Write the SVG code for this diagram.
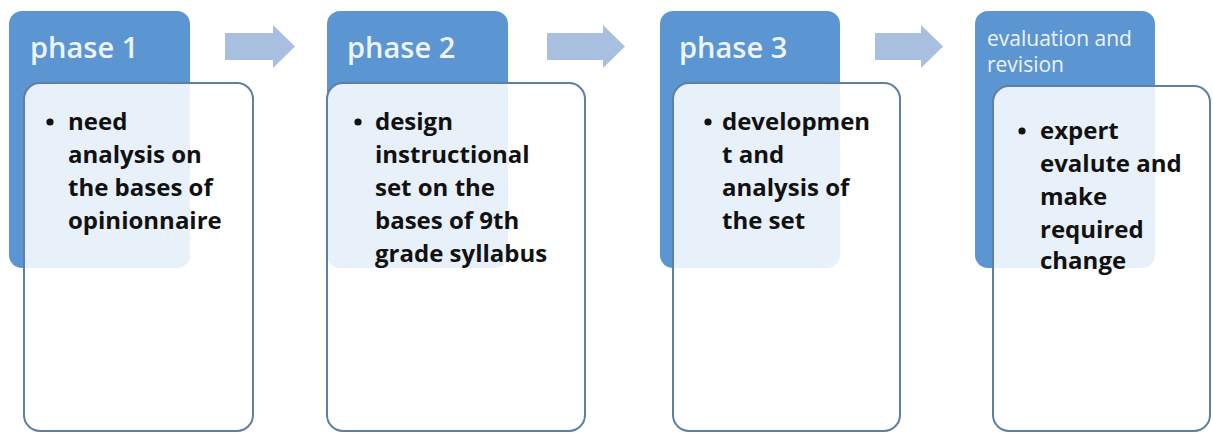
<svg xmlns="http://www.w3.org/2000/svg" width="1213" height="434" viewBox="0 0 1213 434">
<style>
.hdr{fill:#5b96d2}
.card{fill:#ffffff;fill-opacity:0.86;stroke:#5f7fa4;stroke-width:2}
.ttl{font-family:"Open Sans","Liberation Sans",sans-serif;font-weight:600;font-size:29px;fill:#eef4fb}
.ttl2{font-family:"Open Sans","Liberation Sans",sans-serif;font-weight:400;font-size:21px;fill:#eef4fb}
.txt{font-family:"Open Sans","Liberation Sans",sans-serif;font-weight:700;font-size:24px;fill:#111111}
.dot{fill:#111111}
.arr{fill:#a9bfdf}
</style>
<rect width="1213" height="434" fill="#ffffff"/>
<g id="connectors">
<path class="arr" d="M225,33 H273 V25 L295,46.5 L273,68 V60 H225 Z"/>
<path class="arr" d="M547,33 H603 V25 L625,46.5 L603,68 V60 H547 Z"/>
<path class="arr" d="M875,33 H921 V25 L943,46.5 L921,68 V60 H875 Z"/>
</g>
<g id="phase1">
<rect class="hdr" x="9" y="11" width="181" height="257" rx="13"/>
<rect class="card" x="24" y="83" width="229" height="348" rx="16"/>
<text class="ttl" x="30" y="58">phase 1</text>
<circle class="dot" cx="50" cy="122" r="3.6"/>
<text class="txt" x="68"><tspan x="68" y="130">need</tspan><tspan x="68" y="163">analysis on</tspan><tspan x="68" y="196">the bases of</tspan><tspan x="68" y="229">opinionnaire</tspan></text>
</g>
<g id="phase2">
<rect class="hdr" x="327" y="11" width="181" height="257" rx="13"/>
<rect class="card" x="327" y="83" width="258" height="348" rx="16"/>
<text class="ttl" x="347" y="58">phase 2</text>
<circle class="dot" cx="358" cy="122" r="3.6"/>
<text class="txt" x="375"><tspan x="375" y="130">design</tspan><tspan x="375" y="163">instructional</tspan><tspan x="375" y="196">set on the</tspan><tspan x="375" y="229">bases of 9th</tspan><tspan x="375" y="262">grade syllabus</tspan></text>
</g>
<g id="phase3">
<rect class="hdr" x="660" y="11" width="180" height="257" rx="13"/>
<rect class="card" x="673" y="83" width="227" height="348" rx="16"/>
<text class="ttl" x="679" y="58">phase 3</text>
<circle class="dot" cx="708" cy="122" r="3.6"/>
<text class="txt" x="722"><tspan x="722" y="130">developmen</tspan><tspan x="722" y="163">t and</tspan><tspan x="722" y="196">analysis of</tspan><tspan x="722" y="229">the set</tspan></text>
</g>
<g id="phase4">
<rect class="hdr" x="975" y="11" width="180" height="257" rx="13"/>
<rect class="card" x="993" y="86" width="217" height="345" rx="16"/>
<text class="ttl2" x="987"><tspan x="987" y="46">evaluation and</tspan><tspan x="987" y="72">revision</tspan></text>
<circle class="dot" cx="1022" cy="131" r="3.6"/>
<text class="txt" x="1040"><tspan x="1040" y="139">expert</tspan><tspan x="1040" y="172">evalute and</tspan><tspan x="1040" y="205">make</tspan><tspan x="1040" y="238">required</tspan><tspan x="1040" y="269">change</tspan></text>
</g>
</svg>
